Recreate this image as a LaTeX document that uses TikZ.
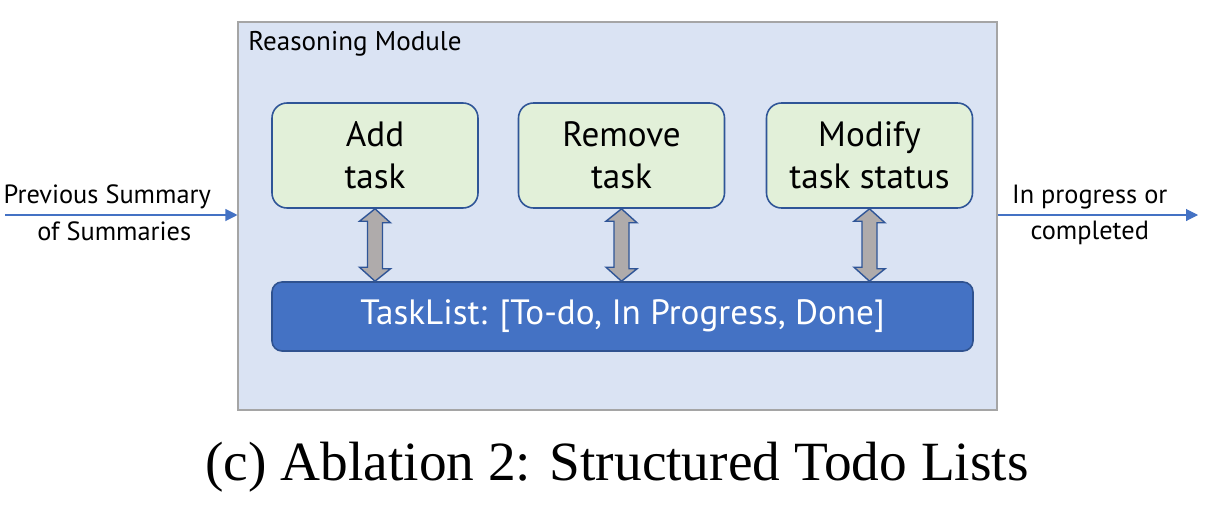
\documentclass[tikz,border=0pt]{standalone}
\usepackage{amsmath}
\usepackage{fontspec}
\setmainfont{PT Sans}
\newfontfamily\capfont{Liberation Serif}
\usetikzlibrary{arrows.meta}

\definecolor{modbg}{HTML}{DAE3F3}
\definecolor{modline}{HTML}{A5A5A5}
\definecolor{taskbg}{HTML}{E2F0D9}
\definecolor{taskline}{HTML}{2F5597}
\definecolor{listbg}{HTML}{4472C4}
\definecolor{listline}{HTML}{2F528F}
\definecolor{dblfill}{HTML}{AFABAB}
\definecolor{flow}{HTML}{4472C4}

\tikzset{
  dbl/.style={draw=taskline, fill=dblfill, line width=0.8pt, line join=miter},
  flowline/.style={draw=flow, line width=0.6pt, -{Triangle[length=0.24cm,width=0.24cm]}},
}

\begin{document}
\begin{tikzpicture}
                \useasboundingbox (0,0) rectangle (24.24,-10.10);
                \node [draw=modline, fill=modbg, line width=0.6pt, minimum width=15.18cm, minimum height=7.76cm, inner sep=0] (RM) at (12.35,-4.32) {};
                \node [anchor=west, inner sep=0, font=\fontsize{15.4}{17}\selectfont] (title) at (4.96,-0.88) {Reasoning Module};
                \begin{scope}[every node/.style={draw=taskline, fill=taskbg, line width=0.9pt, rounded corners=0.3cm, minimum width=4.12cm, minimum height=2.10cm, align=center, font=\fontsize{20}{24}\selectfont}]
                        \node (add) at (7.50,-3.11) {Add\\task};
                        \node (rem) at (12.43,-3.11) {Remove\\task};
                        \node (modify) at (17.39,-3.11) {Modify\\task status};
                \end{scope}
                \node [draw=listline, fill=listbg, line width=0.9pt, rounded corners=0.2cm, minimum width=14.02cm, minimum height=1.38cm, text=white, font=\fontsize{20}{24}\selectfont] (TL) at (12.45,-6.33) {TaskList: [To-do, In Progress, Done]};
                % up and down between the boxes and the list
                \foreach \b in {add,rem,modify}
                        \draw [dbl] (\b.south) -- ++(0.31,-0.28) -- ++(-0.16,0) -- ++(0,-0.92) -- ++(0.16,0) -- (\b.south |- TL.north) -- ++(-0.31,0.28) -- ++(0.16,0) -- ++(0,0.92) -- ++(-0.16,0) -- cycle;
                \coordinate (I) at (0.10,-4.30);
                \coordinate (O) at (23.96,-4.30);
                \begin{scope}[every node/.style={font=\fontsize{15}{17}\selectfont}]
                        \path (I) edge [flowline] node [above, pos=0.44] {Previous Summary} node [below, pos=0.47] {of Summaries} (I -| RM.west);
                        \path (I -| RM.east) edge [flowline] node [above, pos=0.46] {In progress or} node [below, pos=0.46] {completed} (O);
                \end{scope}
                \node [font=\capfont\fontsize{31.5}{36}\selectfont] (cap) at (12.34,-9.34) {(c) Ablation 2: Structured Todo Lists};
\end{tikzpicture}
\end{document}
